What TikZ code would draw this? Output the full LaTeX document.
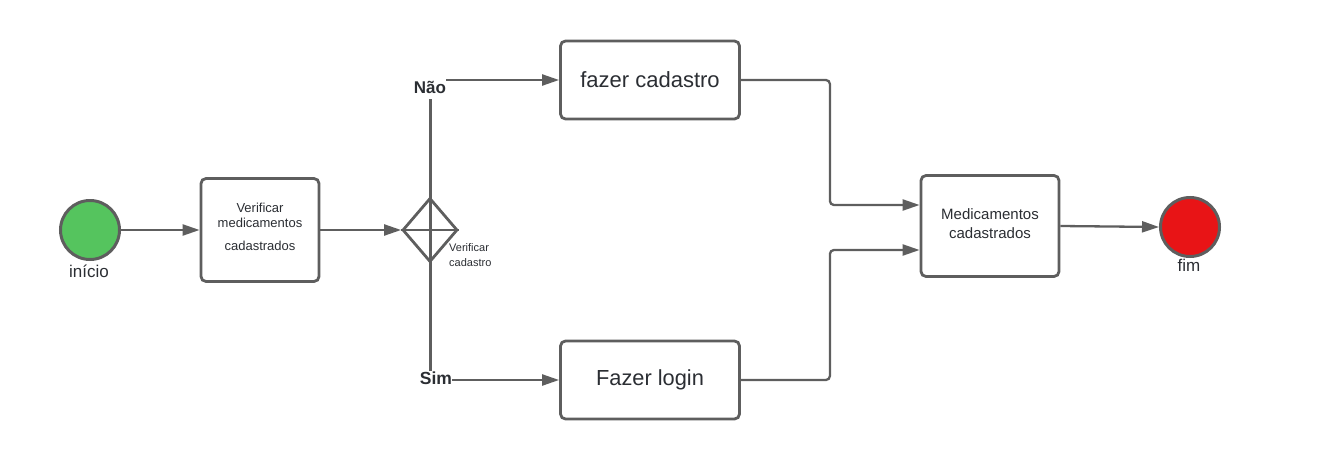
\documentclass[tikz,border=0pt]{standalone}
\usepackage{fontspec}
\setmainfont{Liberation Sans}
\usetikzlibrary{positioning, arrows.meta, shapes.geometric}
\definecolor{linegray}{HTML}{5E5E5E}
\definecolor{textgray}{HTML}{2B2E33}
\definecolor{startgreen}{HTML}{55C45E}
\definecolor{endred}{HTML}{E81416}

\begin{document}
\begin{tikzpicture}[x=1pt, y=-1pt,
  task/.style={draw=linegray, line width=2.8pt, rounded corners=5pt, fill=white, align=center, text=textgray, inner sep=0},
  event/.style={circle, draw=linegray, line width=3pt, minimum size=59pt, inner sep=0},
  flow/.style={draw=linegray, line width=2.3pt, -{Triangle[length=17pt, width=11pt]}},
  lbl/.style={text=textgray, inner sep=0}]

  \useasboundingbox (0,0) rectangle (1335,460);

  % eventos
  \node[event, fill=startgreen] (inicio) at (90,230) {};
  \node[lbl, font=\fontsize{17pt}{19pt}\selectfont] (inicioLbl) at (89,271) {início};
  \node[event, fill=endred] (fim) at (1190,227) {};
  \node[lbl, font=\fontsize{17pt}{19pt}\selectfont] (fimLbl) at (1189,265) {fim};

  % tarefas
  \node[task, minimum width=118pt, minimum height=103pt, font=\fontsize{13pt}{15.5pt}\selectfont] (verMed) at (260,230) {Verificar\\medicamentos\\[7pt]cadastrados\\[-9pt]};
  \node[task, minimum width=179pt, minimum height=78pt, font=\fontsize{22pt}{26pt}\selectfont] (cadastro) at (650,80) {fazer cadastro};
  \node[task, minimum width=179pt, minimum height=78pt, font=\fontsize{21.8pt}{26pt}\selectfont] (login) at (650,380) {Fazer login};
  \node[task, minimum width=138pt, minimum height=101pt, font=\fontsize{15pt}{19pt}\selectfont] (medCad) at (990,226) {Medicamentos\\cadastrados\\[-14pt]};

  % gateway
  \node[diamond, draw=linegray, line width=2.8pt, minimum width=55pt, minimum height=64pt, inner sep=0, fill=white] (gw) at (430,230) {};
  \node[lbl, anchor=north west, align=left, font=\fontsize{11pt}{15pt}\selectfont] (gwLbl) at (449,243) {Verificar\\cadastro};
  \node[lbl, font=\bfseries\fontsize{17pt}{19pt}\selectfont] (nao) at (430,87) {Não};
  \node[lbl, font=\bfseries\fontsize{17.5pt}{19pt}\selectfont] (sim) at (436,378) {Sim};

  \draw[draw=linegray, line width=3pt] (nao.south) ++(0,-6pt) -- (nao.south |- sim.north);
  \draw[draw=linegray, line width=2.8pt] (gw.west) -- (gw.east);

  % fluxos
  \draw[flow] (inicio.east) -- (verMed.west);
  \draw[flow] (verMed.east) -- (gw.west);
  \draw[flow] (nao.east |- cadastro.west) -- (cadastro.west);
  \draw[flow] (sim.east |- login.west) -- (login.west);
  \draw[flow, rounded corners=4pt] (cadastro.east) -- ++(89,0) |- ([yshift=21pt]medCad.west);
  \draw[flow, rounded corners=4pt] (login.east) -- ++(89,0) |- ([yshift=-24pt]medCad.west);
  \draw[flow] (medCad.east) -- (fim.west);
\end{tikzpicture}
\end{document}
